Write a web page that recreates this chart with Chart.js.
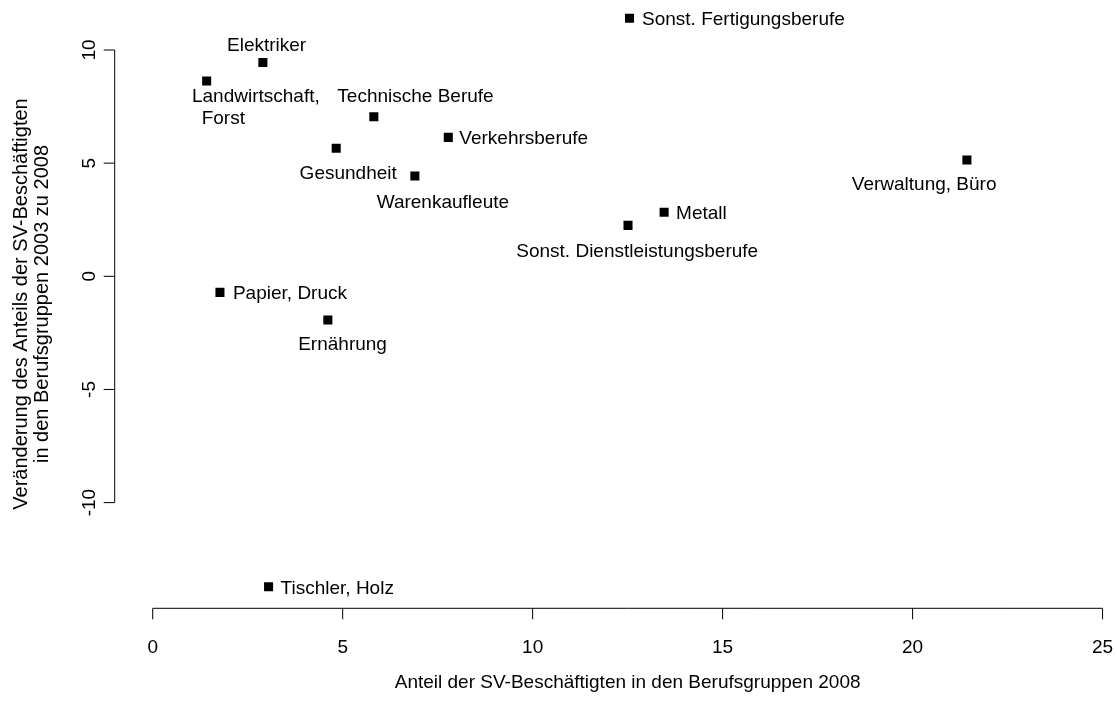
<!DOCTYPE html>
<html>
<head>
<meta charset="utf-8">
<script src="https://cdn.jsdelivr.net/npm/chart.js@4/dist/chart.umd.min.js"></script>
<style>
  html, body { margin: 0; padding: 0; background: #fff; }
  #wrap { width: 1117px; height: 705px; }
</style>
</head>
<body>
<div id="wrap"><canvas id="scatter" width="1117" height="705"></canvas></div>
<script>
// ─── Data ─────────────────────────────────────────────────────────────
const groups = [
  "Sonst. Fertigungsberufe", "Elektriker", "Landwirtschaft,\nForst",
  "Technische Berufe", "Verkehrsberufe", "Gesundheit", "Warenkaufleute",
  "Verwaltung, Büro", "Metall", "Sonst. Dienstleistungsberufe",
  "Papier, Druck", "Ernährung", "Tischler, Holz",
];
const share2008 = [12.55, 2.90, 1.42, 5.82, 7.78, 4.83, 6.90, 21.43, 13.46, 12.51, 1.77, 4.61, 3.05];
const change0308 = [11.40, 9.45, 8.63, 7.05, 6.14, 5.66, 4.43, 5.14, 2.83, 2.25, -0.71, -1.93, -13.72];

const xTicks = [0, 5, 10, 15, 20, 25];
const yTicks = [-10, -5, 0, 5, 10];
const xTitle = "Anteil der SV-Beschäftigten in den Berufsgruppen 2008";
const yTitle = ["Veränderung des Anteils der SV-Beschäftigten", "in den Berufsgruppen 2003 zu 2008"];

// label placement relative to the point (pixels), same order as groups
const labelPlace = [
  { align: "left",   dx: 12.5,  dy: 7 },
  { align: "center", dx: 3.7,   dy: -11.6 },
  { align: "left",   dx: -14.7, dy: 21.3, indent: 9.7 },
  { align: "center", dx: 41.7,  dy: -14.4 },
  { align: "left",   dx: 11,    dy: 7 },
  { align: "center", dx: 12,    dy: 31 },
  { align: "center", dx: 28,    dy: 31.7 },
  { align: "center", dx: -42.8, dy: 30 },
  { align: "left",   dx: 12,    dy: 7 },
  { align: "center", dx: 9.2,   dy: 31.7 },
  { align: "left",   dx: 13,    dy: 7 },
  { align: "center", dx: 14.7,  dy: 30 },
  { align: "left",   dx: 12,    dy: 7 },
];

const FONT = "19px 'Liberation Sans', Arial, sans-serif";
const YTITLE_FONT = "20px 'Liberation Sans', Arial, sans-serif";
const INK = "#000";

// ─── Point labels ─────────────────────────────────────────────────────
const pointLabels = {
  id: "pointLabels",
  afterDatasetsDraw(chart) {
    const ctx = chart.ctx;
    const pts = chart.getDatasetMeta(0).data;
    ctx.save();
    ctx.font = FONT;
    ctx.fillStyle = INK;
    ctx.textBaseline = "alphabetic";
    pts.forEach((p, i) => {
      const pl = labelPlace[i];
      ctx.textAlign = pl.align;
      groups[i].split("\n").forEach((line, k) => {
        const x = p.x + pl.dx + (k > 0 ? (pl.indent || 0) : 0);
        ctx.fillText(line, x, p.y + pl.dy + k * 21.5);
      });
    });
    ctx.restore();
  },
};

// ─── R-style axes ─────────────────────────────────────────────────────
const rAxes = {
  id: "rAxes",
  afterDraw(chart) {
    const ctx = chart.ctx;
    const xs = chart.scales.x, ys = chart.scales.y;
    const area = chart.chartArea;
    const ax = area.left, ay = area.bottom;
    ctx.save();
    ctx.strokeStyle = INK;
    ctx.fillStyle = INK;
    ctx.lineWidth = 1;
    ctx.font = FONT;

    // x axis
    ctx.beginPath();
    ctx.moveTo(xs.getPixelForValue(xTicks[0]), ay);
    ctx.lineTo(xs.getPixelForValue(xTicks[xTicks.length - 1]), ay);
    xTicks.forEach((t) => {
      const px = xs.getPixelForValue(t);
      ctx.moveTo(px, ay);
      ctx.lineTo(px, ay + 11);
    });
    ctx.stroke();
    ctx.textAlign = "center";
    ctx.textBaseline = "alphabetic";
    xTicks.forEach((t) => ctx.fillText(String(t), xs.getPixelForValue(t), ay + 45));
    ctx.fillText(xTitle, (area.left + xs.getPixelForValue(26)) / 2, ay + 80);

    // y axis
    ctx.beginPath();
    ctx.moveTo(ax, ys.getPixelForValue(yTicks[0]));
    ctx.lineTo(ax, ys.getPixelForValue(yTicks[yTicks.length - 1]));
    yTicks.forEach((t) => {
      const py = ys.getPixelForValue(t);
      ctx.moveTo(ax, py);
      ctx.lineTo(ax - 11, py);
    });
    ctx.stroke();
    yTicks.forEach((t) => {
      ctx.save();
      ctx.translate(ax - 20, ys.getPixelForValue(t));
      ctx.rotate(-Math.PI / 2);
      ctx.fillText(String(t), 0, 0);
      ctx.restore();
    });
    ctx.font = YTITLE_FONT;
    yTitle.forEach((line, k) => {
      ctx.save();
      ctx.translate(26.7 + k * 21, 304);
      ctx.rotate(-Math.PI / 2);
      ctx.fillText(line, 0, 0);
      ctx.restore();
    });
    ctx.restore();
  },
};

// ─── Chart ────────────────────────────────────────────────────────────
new Chart(document.getElementById("scatter"), {
  type: "scatter",
  data: {
    datasets: [{
      data: share2008.map((x, i) => ({ x, y: change0308[i] })),
      pointStyle: "rect",
      pointRadius: 6.4,
      backgroundColor: INK,
      borderWidth: 0,
    }],
  },
  options: {
    responsive: false,
    devicePixelRatio: 1,
    animation: false,
    layout: {
      autoPadding: false,
      padding: { left: 114.7, right: 0, top: 0, bottom: 96.7 },
    },
    scales: {
      x: { type: "linear", min: -1, max: 25.38, display: false },
      y: { type: "linear", min: -14.67, max: 12.21, display: false },
    },
    plugins: { legend: { display: false }, tooltip: { enabled: false } },
  },
  plugins: [pointLabels, rAxes],
});
</script>
</body>
</html>
